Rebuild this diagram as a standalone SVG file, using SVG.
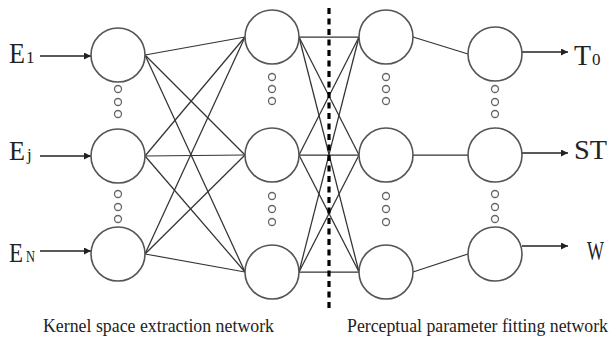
<svg xmlns="http://www.w3.org/2000/svg" width="611" height="341" viewBox="0 0 611 341">
<style>
.node{fill:#fff;stroke:#555;stroke-width:1.6}
.dot{fill:#fff;stroke:#666;stroke-width:1.3}
.conn{stroke:#333;stroke-width:1.25;fill:none}
.arr{stroke:#222;stroke-width:1.4;fill:none}
.lbl{font-family:"Liberation Serif","Times New Roman",serif;fill:#222}
</style>
<defs>
<marker id="ah" viewBox="0 0 10 10" refX="10" refY="5" markerWidth="9" markerHeight="7" markerUnits="userSpaceOnUse" orient="auto">
<path d="M0,0 L10,5 L0,10 z" fill="#222"/>
</marker>
</defs>
<rect width="611" height="341" fill="#fff"/>
<g id="connectors">
<line class="conn" x1="145" y1="55" x2="245" y2="37"/>
<line class="conn" x1="145" y1="55" x2="245" y2="155"/>
<line class="conn" x1="145" y1="55" x2="245" y2="272"/>
<line class="conn" x1="145" y1="156" x2="245" y2="37"/>
<line class="conn" x1="145" y1="156" x2="245" y2="155"/>
<line class="conn" x1="145" y1="156" x2="245" y2="272"/>
<line class="conn" x1="145" y1="254" x2="245" y2="37"/>
<line class="conn" x1="145" y1="254" x2="245" y2="155"/>
<line class="conn" x1="145" y1="254" x2="245" y2="272"/>
<line class="conn" x1="299" y1="37" x2="359" y2="37"/>
<line class="conn" x1="299" y1="37" x2="359" y2="155"/>
<line class="conn" x1="299" y1="37" x2="359" y2="272"/>
<line class="conn" x1="299" y1="155" x2="359" y2="37"/>
<line class="conn" x1="299" y1="155" x2="359" y2="155"/>
<line class="conn" x1="299" y1="155" x2="359" y2="272"/>
<line class="conn" x1="299" y1="272" x2="359" y2="37"/>
<line class="conn" x1="299" y1="272" x2="359" y2="155"/>
<line class="conn" x1="299" y1="272" x2="359" y2="272"/>
<line class="conn" x1="413" y1="37" x2="468" y2="54"/>
<line class="conn" x1="413" y1="155" x2="468" y2="155"/>
<line class="conn" x1="413" y1="272" x2="468" y2="254"/>
<line class="arr" x1="40" y1="56" x2="91" y2="56" marker-end="url(#ah)"/>
<line class="arr" x1="40" y1="156" x2="91" y2="156" marker-end="url(#ah)"/>
<line class="arr" x1="40" y1="251" x2="91" y2="251" marker-end="url(#ah)"/>
<line class="arr" x1="522" y1="52" x2="568" y2="52" marker-end="url(#ah)"/>
<line class="arr" x1="522" y1="153" x2="568" y2="153" marker-end="url(#ah)"/>
<line class="arr" x1="522" y1="246" x2="568" y2="246" marker-end="url(#ah)"/>
<line x1="329" y1="8" x2="329" y2="312" stroke="#000" stroke-width="3.2" stroke-dasharray="6 4.5"/>
</g>
<g id="n1a"><circle class="node" cx="118" cy="55" r="27"/></g>
<g id="n1b"><circle class="node" cx="118" cy="156" r="27"/></g>
<g id="n1c"><circle class="node" cx="118" cy="254" r="27"/></g>
<g id="n2a"><circle class="node" cx="272" cy="37" r="27"/></g>
<g id="n2b"><circle class="node" cx="272" cy="155" r="27"/></g>
<g id="n2c"><circle class="node" cx="272" cy="272" r="27"/></g>
<g id="n3a"><circle class="node" cx="386" cy="37" r="27"/></g>
<g id="n3b"><circle class="node" cx="386" cy="155" r="27"/></g>
<g id="n3c"><circle class="node" cx="386" cy="272" r="27"/></g>
<g id="n4a"><circle class="node" cx="495" cy="54" r="27"/></g>
<g id="n4b"><circle class="node" cx="495" cy="155" r="27"/></g>
<g id="n4c"><circle class="node" cx="495" cy="254" r="27"/></g>
<g id="ellipses">
<circle class="dot" cx="118" cy="89" r="3.5"/><circle class="dot" cx="118" cy="102" r="3.5"/><circle class="dot" cx="118" cy="114" r="3.5"/>
<circle class="dot" cx="118" cy="194" r="3.5"/><circle class="dot" cx="118" cy="207" r="3.5"/><circle class="dot" cx="118" cy="219" r="3.5"/>
<circle class="dot" cx="272" cy="77" r="3.5"/><circle class="dot" cx="272" cy="89" r="3.5"/><circle class="dot" cx="272" cy="101" r="3.5"/>
<circle class="dot" cx="272" cy="196" r="3.5"/><circle class="dot" cx="272" cy="209" r="3.5"/><circle class="dot" cx="272" cy="222" r="3.5"/>
<circle class="dot" cx="386" cy="77" r="3.5"/><circle class="dot" cx="386" cy="89" r="3.5"/><circle class="dot" cx="386" cy="101" r="3.5"/>
<circle class="dot" cx="386" cy="196" r="3.5"/><circle class="dot" cx="386" cy="209" r="3.5"/><circle class="dot" cx="386" cy="222" r="3.5"/>
<circle class="dot" cx="495" cy="89" r="3.5"/><circle class="dot" cx="495" cy="102" r="3.5"/><circle class="dot" cx="495" cy="114" r="3.5"/>
<circle class="dot" cx="495" cy="194" r="3.5"/><circle class="dot" cx="495" cy="207" r="3.5"/><circle class="dot" cx="495" cy="219" r="3.5"/>
</g>
<g id="labels">
<text class="lbl" x="9" y="63" font-size="30" textLength="16" lengthAdjust="spacingAndGlyphs">E</text>
<text class="lbl" x="26" y="63" font-size="17">1</text>
<text class="lbl" x="9" y="160" font-size="28" textLength="16" lengthAdjust="spacingAndGlyphs">E</text>
<text class="lbl" x="27" y="160" font-size="17">j</text>
<text class="lbl" x="9" y="262" font-size="27" textLength="14" lengthAdjust="spacingAndGlyphs">E</text>
<text class="lbl" x="26" y="262" font-size="17" textLength="9" lengthAdjust="spacingAndGlyphs">N</text>
<text class="lbl" x="574" y="65" font-size="30" textLength="17" lengthAdjust="spacingAndGlyphs">T</text>
<text class="lbl" x="592" y="65" font-size="17">0</text>
<text class="lbl" x="574" y="159" font-size="27" textLength="33" lengthAdjust="spacingAndGlyphs">ST</text>
<text class="lbl" x="587" y="260" font-size="27" textLength="17" lengthAdjust="spacingAndGlyphs">W</text>
<text class="lbl" x="43" y="332" font-size="18" textLength="231" lengthAdjust="spacingAndGlyphs">Kernel space extraction network</text>
<text class="lbl" x="347" y="332" font-size="18" textLength="261" lengthAdjust="spacingAndGlyphs">Perceptual parameter fitting network</text>
</g>
</svg>
